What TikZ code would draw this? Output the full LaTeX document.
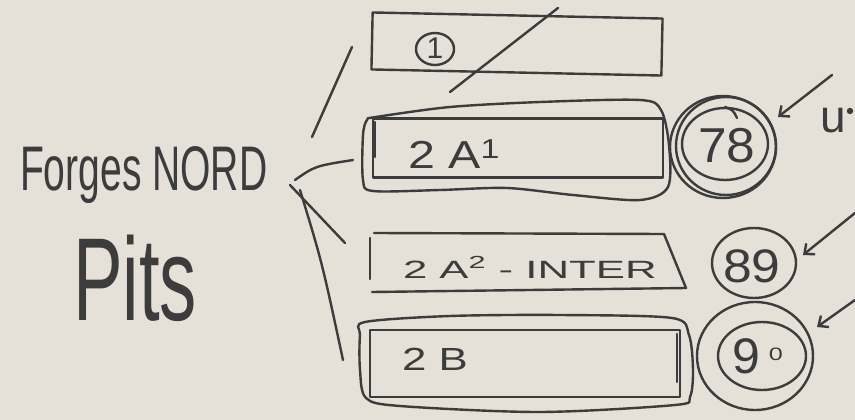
\documentclass[tikz,border=0pt]{standalone}
\usepackage{fontspec}
\setmainfont{Liberation Sans}
\usetikzlibrary{arrows.meta,shapes.geometric}
\definecolor{paper}{HTML}{E5E0D8}
\definecolor{ink}{HTML}{3C3C3C}
\newcommand\hwtext[3]{\scalebox{#1}[1]{\fontsize{#2}{#2}\selectfont #3}}
\begin{document}
\begin{tikzpicture}[x=1pt,y=-1pt,
  pen/.style={draw=ink,line width=2.4pt,line cap=round,line join=round},
  hand/.style={inner sep=0pt,outer sep=0pt,anchor=base west,text=ink},
  boxnode/.style={pen,rectangle,inner sep=0pt,outer sep=0pt},
  ring/.style={pen,ellipse,inner sep=0pt,outer sep=0pt},
  arr/.style={pen,-{Straight Barb[length=8pt,width=14pt,line width=2.4pt]}}]
\fill[paper] (0,0) rectangle (855,420);
\useasboundingbox (0,0) rectangle (855,420);

% left texts
\node[hand] (forges) at (20,190) {\hwtext{0.62}{63}{Forges NORD}};
\node[hand] (pits) at (73,320) {\hwtext{0.63}{118}{Pits}};

% box 1
\node[boxnode,minimum width=290pt,minimum height=57pt,rotate=-1.2] (box1) at (517,44) {};
\node[ring,minimum width=38pt,minimum height=32pt] (c1) at (435,49) {};
\node[inner sep=0pt,anchor=base,text=ink] (t1) at (435,59) {\fontsize{30}{30}\selectfont 1};
\coordinate (slA) at (558,8);
\coordinate (slB) at (450,92);
\draw[pen] (slA) -- (slB);

% box 2A1
\draw[pen] plot[smooth cycle,tension=0.5] coordinates {(376,117) (450,107) (540,102) (640,100) (661,110) (669,145) (668,187) (640,200) (573,195) (507,188) (440,190) (373,191) (363,180) (363,135) (367,120)};
\node[boxnode,minimum width=290pt,minimum height=59pt] (box2a) at (518,148) {};
\draw[pen] (375,122) -- (375,157);
\node[hand] (t2a) at (408,168) {\hwtext{1.24}{39}{2 A\textsuperscript{1}}};

% circle 78
\node[ring,minimum width=106pt,minimum height=102pt] (r78o) at (723,147) {};
\node[ring,minimum width=100pt,minimum height=98pt] (r78m) at (726,146) {};
\node[ring,minimum width=86pt,minimum height=72pt] (r78i) at (725,144) {};
\draw[pen] (725,107) .. controls (733,110) .. (737,118);
\node[hand] (t78) at (698,162) {\hwtext{1.05}{49}{78}};

% box 2A2
\draw[pen] (374,233) -- (664,234) -- (686,288) -- (372,292);
\draw[pen] (370,238) -- (370,279);
\node[hand] (t2c) at (403,278) {\hwtext{1.75}{25}{2 A\textsuperscript{2} - INTER}};

% circle 89
\node[ring,minimum width=84pt,minimum height=70pt] (r89) at (754,263) {};
\node[hand] (t89) at (723,282) {\hwtext{1.1}{47}{89}};

% box 2B
\draw[pen] plot[smooth cycle,tension=0.5] coordinates {(365,322) (450,316) (560,315) (672,318) (689,335) (693,370) (690,397) (675,405) (540,412) (400,406) (366,398) (360,370) (360,335)};
\node[boxnode,minimum width=310pt,minimum height=67pt] (box2b) at (525,363.5) {};
\draw[pen] (677,334) -- (677,382);
\node[hand] (t2b) at (402,370) {\hwtext{1.37}{32}{2 B}};

% circle 90
\node[ring,minimum width=116pt,minimum height=108pt] (r90o) at (755,356) {};
\node[ring,minimum width=88pt,minimum height=68pt] (r90i) at (762,356) {};
\node[hand] (t90) at (732,373) {\fontsize{50}{50}\selectfont 9\kern9pt\raisebox{13pt}{\hwtext{1.4}{18}{0}}};

% u.
\node[hand] (tu) at (820,132) {\fontsize{46}{46}\selectfont u};
\fill[ink] (850,111) circle (3.2pt);

% connectors from Forges NORD
\coordinate (s1) at (312,137); \coordinate (e1) at (352,47);
\coordinate (s2) at (295,180); \coordinate (e2) at (353,160);
\coordinate (s3) at (290,185); \coordinate (e3) at (345,243);
\coordinate (s4) at (300,190); \coordinate (e4) at (343,360);
\draw[pen] (s1) -- (e1);
\draw[pen] (s2) .. controls (315,166) .. (e2);
\draw[pen] (s3) -- (e3);
\draw[pen] (s4) .. controls (322,262) .. (e4);

% arrows
\coordinate (a1s) at (832,75); \coordinate (a1e) at (778,117);
\coordinate (a2s) at (855,213); \coordinate (a2e) at (803,255);
\coordinate (a3s) at (855,300); \coordinate (a3e) at (817,327);
\draw[arr] (a1s) -- (a1e);
\draw[arr] (a2s) -- (a2e);
\draw[arr] (a3s) -- (a3e);
\end{tikzpicture}
\end{document}
